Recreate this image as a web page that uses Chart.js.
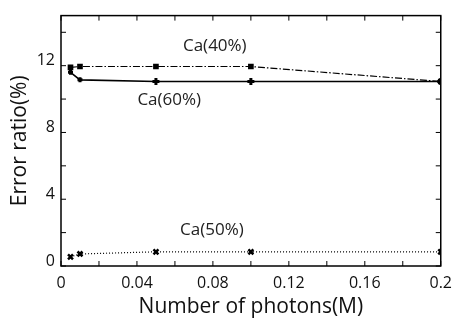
<!DOCTYPE html>
<html>
<head>
<meta charset="utf-8">
<script src="https://cdn.jsdelivr.net/npm/chart.js@4"></script>
<style>
  html, body { margin: 0; padding: 0; background: #fff; }
  #wrap { width: 460px; height: 320px; }
</style>
</head>
<body>
<div id="wrap"><canvas id="errChart"></canvas></div>
<script>
// photon counts (M)
const photons = [0.005, 0.01, 0.05, 0.1, 0.2];
const ca40 = [11.9, 11.95, 11.95, 11.95, 11.05];
const ca60 = [11.6, 11.15, 11.05, 11.05, 11.05];
const ca50 = [0.55, 0.72, 0.85, 0.85, 0.85];

const xTickValues = [0, 0.04, 0.08, 0.12, 0.16, 0.2];
const xTickLabels = ['0', '0.04', '0.08', '0.12', '0.16', '0.2'];
const yTickValues = [0, 4, 8, 12];
const yTickLabels = ['0', '4', '8', '12'];

// text labels next to the curves, in data units
const notes = [
  { text: 'Ca(40%)', x: 0.081, y: 13.15 },
  { text: 'Ca(60%)', x: 0.057, y: 9.95 },
  { text: 'Ca(50%)', x: 0.0795, y: 2.15 }
];

const FONT = '"Open Sans", "DejaVu Sans", sans-serif';

function pts(ys) {
  return photons.map((x, i) => ({ x: x, y: ys[i] }));
}

function labelFor(values, labels, v) {
  for (let i = 0; i < values.length; i++) {
    if (Math.abs(values[i] - v) < 1e-9) return labels[i];
  }
  return '';
}

// frame with inward tick marks on all four sides, plus curve names
const framePlugin = {
  id: 'frame',
  afterDatasetsDraw(chart) {
    const ctx = chart.ctx;
    const a = chart.chartArea;
    const xs = chart.scales.x;
    const ys = chart.scales.y;
    const len = 5;
    ctx.save();
    ctx.strokeStyle = '#000';
    ctx.lineWidth = 1.5;
    ctx.strokeRect(a.left, a.top, a.right - a.left, a.bottom - a.top);
    ctx.lineWidth = 1;
    ctx.beginPath();
    xs.ticks.forEach(t => {
      const px = xs.getPixelForValue(t.value);
      ctx.moveTo(px, a.bottom); ctx.lineTo(px, a.bottom - len);
      ctx.moveTo(px, a.top); ctx.lineTo(px, a.top + len);
    });
    ys.ticks.forEach(t => {
      const py = ys.getPixelForValue(t.value);
      ctx.moveTo(a.left, py); ctx.lineTo(a.left + len, py);
      ctx.moveTo(a.right, py); ctx.lineTo(a.right - len, py);
    });
    ctx.stroke();

    ctx.fillStyle = '#222';
    ctx.font = '17px ' + FONT;
    ctx.textAlign = 'center';
    ctx.textBaseline = 'middle';
    notes.forEach(n => {
      ctx.fillText(n.text, xs.getPixelForValue(n.x), ys.getPixelForValue(n.y));
    });
    ctx.restore();
  }
};

const chart = new Chart(document.getElementById('errChart'), {
  type: 'line',
  data: {
    datasets: [
      {
        label: 'Ca(40%)',
        data: pts(ca40),
        borderColor: '#000',
        backgroundColor: '#000',
        borderWidth: 1.2,
        borderDash: [7, 2, 1.5, 2],
        pointStyle: 'rect',
        pointRadius: 4,
        pointBorderWidth: 0
      },
      {
        label: 'Ca(60%)',
        data: pts(ca60),
        borderColor: '#000',
        backgroundColor: '#000',
        borderWidth: 1.6,
        pointStyle: 'cross',
        pointRadius: [2.5, 2.5, 3.5, 3.5, 3.5],
        pointBorderWidth: 3
      },
      {
        label: 'Ca(50%)',
        data: pts(ca50),
        borderColor: '#000',
        backgroundColor: '#000',
        borderWidth: 1.2,
        borderDash: [1, 2],
        pointStyle: 'crossRot',
        pointRadius: 3.5,
        pointBorderWidth: 2.5
      }
    ]
  },
  options: {
    responsive: true,
    maintainAspectRatio: false,
    animation: false,
    layout: { padding: { top: 14, right: 12, left: 0, bottom: 0 } },
    plugins: {
      legend: { display: false },
      tooltip: { enabled: false }
    },
    scales: {
      x: {
        type: 'linear',
        min: 0,
        max: 0.2,
        afterBuildTicks(scale) {
          const t = [];
          for (let i = 0; i <= 10; i++) t.push({ value: i * 0.02 });
          scale.ticks = t;
        },
        afterFit(scale) { scale.height = 54; },
        grid: { display: false, drawTicks: false },
        border: { display: false },
        ticks: {
          autoSkip: false,
          maxRotation: 0,
          padding: 8,
          color: '#111',
          font: { family: FONT, size: 16 },
          callback: v => labelFor(xTickValues, xTickLabels, v)
        },
        title: {
          display: true,
          text: 'Number of photons(M)',
          color: '#111',
          font: { family: FONT, size: 21, lineHeight: 1.2 },
          padding: { top: 0, bottom: 0 }
        }
      },
      y: {
        min: 0,
        max: 15,
        afterBuildTicks(scale) {
          const t = [];
          for (let v = 0; v <= 14; v += 2) t.push({ value: v });
          scale.ticks = t;
        },
        afterFit(scale) { scale.width = 61; },
        grid: { display: false, drawTicks: false },
        border: { display: false },
        ticks: {
          autoSkip: false,
          padding: 6,
          labelOffset: -5,
          color: '#111',
          font: { family: FONT, size: 16 },
          callback: v => labelFor(yTickValues, yTickLabels, v)
        },
        title: {
          display: true,
          text: 'Error ratio(%)',
          color: '#111',
          font: { family: FONT, size: 21, lineHeight: 1.2 },
          padding: { top: 7, bottom: 0 }
        }
      }
    }
  },
  plugins: [framePlugin]
});
</script>
</body>
</html>
